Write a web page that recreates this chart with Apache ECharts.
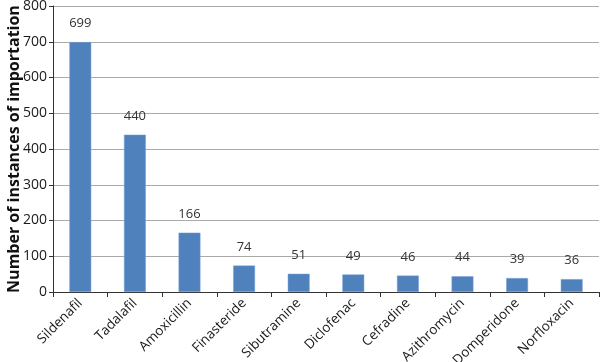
<!DOCTYPE html>
<html>
<head>
<meta charset="utf-8">
<script src="https://cdn.jsdelivr.net/npm/echarts@6/dist/echarts.min.js"></script>
<style>
  html, body { margin: 0; padding: 0; background: #fff; }
  #chart { width: 600px; height: 362px; }
</style>
</head>
<body>
<div id="chart"></div>
<script>
// drug names and counts
const drugs = ['Sildenafil', 'Tadalafil', 'Amoxicillin', 'Finasteride', 'Sibutramine',
  'Diclofenac', 'Cefradine', 'Azithromycin', 'Domperidone', 'Norfloxacin'];
const counts = [699, 440, 166, 74, 51, 49, 46, 44, 39, 36];
const yTicks = [0, 100, 200, 300, 400, 500, 600, 700, 800];

const chart = echarts.init(document.getElementById('chart'), null, { renderer: 'canvas' });

const option = {
  animation: false,
  textStyle: { fontFamily: "'Open Sans', 'DejaVu Sans', sans-serif" },
  grid: { left: 53, right: 1, top: 6, bottom: 70, containLabel: false, outerBoundsMode: 'none' },
  xAxis: {
    type: 'category',
    data: drugs,
    boundaryGap: true,
    axisLine: { lineStyle: { color: '#333', width: 1 } },
    axisTick: { show: true, length: 5, lineStyle: { color: '#333' } },
    axisLabel: { rotate: 45, color: '#1a1a1a', fontSize: 13.5, margin: 9, interval: 0 }
  },
  yAxis: {
    type: 'value',
    min: yTicks[0],
    max: yTicks[yTicks.length - 1],
    interval: 100,
    name: 'Number of instances of importation',
    nameLocation: 'middle',
    nameGap: 31,
    nameMoveOverlap: false,
    nameTextStyle: { fontSize: 16, fontWeight: 'bold', color: '#111' },
    axisLine: { show: true, lineStyle: { color: '#333' } },
    axisTick: { show: true, length: 4, lineStyle: { color: '#333' } },
    axisLabel: { color: '#1a1a1a', fontSize: 14, margin: 6 },
    splitLine: { lineStyle: { color: '#aaaaaa', width: 1 } }
  },
  series: [{
    type: 'bar',
    data: counts,
    barWidth: '40%',
    itemStyle: { color: '#4f81bd', borderColor: '#7aa0d4', borderWidth: 0.5 },
    label: { show: true, position: 'top', distance: 12, color: '#333', fontSize: 13 }
  }]
};

chart.setOption(option);
</script>
</body>
</html>
